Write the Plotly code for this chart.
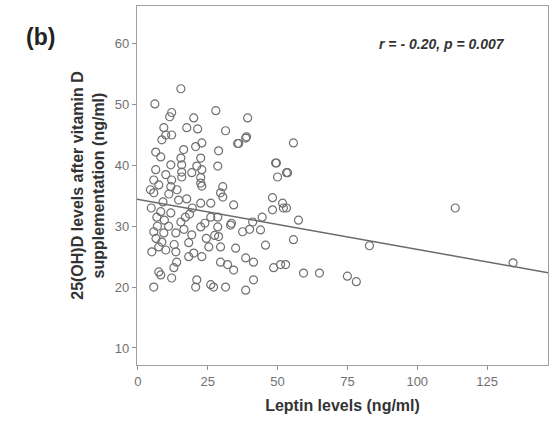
import plotly.graph_objects as go
import numpy as np

# Leptin (ng/ml) values
leptin = [
    113.6, 134.3, 82.9, 75.0, 78.2, 65.0, 59.3, 55.7, 53.6, 53.2, 57.5, 55.7, 52.9,
    27.9, 39.3, 31.4, 38.6, 36.1, 28.9, 28.6, 49.6, 50.0, 53.2, 30.4,
    15.4, 6.1, 12.1, 11.4, 20.0, 21.4, 17.5, 9.3, 10.0, 12.1, 8.6, 22.9, 20.7, 6.4,
    16.4, 8.2, 15.4, 22.5, 15.7, 11.8, 21.1, 6.4, 22.9, 15.7, 10.0, 5.7, 22.5, 12.1,
    15.7, 19.3, 7.5, 22.9, 11.8,
    5.7, 11.1, 14.6, 8.2, 6.8, 11.8, 15.4, 22.5, 26.1, 5.7, 9.3, 13.6, 19.3, 8.6,
    7.5, 18.2, 5.0, 10.0, 13.6, 20.0, 22.9, 25.4, 13.9, 12.9, 18.2, 7.5, 8.2, 12.1,
    21.1, 5.7, 20.7, 26.1, 26.1, 22.5,
    30.4, 34.3, 48.2, 51.8, 48.2, 52.1, 28.6, 33.2, 41.1, 43.9, 37.5, 28.6, 28.9,
    45.7, 35.0, 29.6, 38.6, 41.4, 29.6, 32.1, 34.3, 48.6, 51.1, 41.4, 38.6, 27.1,
    31.4, 29.6, 22.5, 49.3, 38.9, 35.7,
    4.8, 7.0, 9.5, 13.0, 17.0, 19.5, 24.0, 14.0, 17.5, 9.0, 6.5, 16.5, 24.5, 4.5,
    11.0, 18.5, 27.5, 33.5, 40.0, 44.5,
]
# 25(OH)D after vitamin D supplementation (ng/ml)
vitd = [
    33.0, 24.0, 26.8, 21.8, 20.9, 22.3, 22.3, 43.7, 38.8, 33.0, 31.0, 27.8, 23.7,
    49.0, 47.8, 45.7, 44.5, 43.6, 42.4, 39.9, 40.4, 38.1, 38.8, 36.5,
    52.6, 50.1, 48.7, 48.0, 47.8, 46.0, 46.2, 46.2, 45.0, 45.0, 44.2, 43.7, 43.1, 42.2,
    42.6, 41.4, 41.2, 41.2, 40.1, 40.1, 39.9, 39.3, 39.3, 38.9, 38.5, 37.6, 38.0, 37.6,
    38.1, 38.8, 36.8, 36.6, 36.5,
    35.5, 35.3, 34.3, 32.4, 31.5, 32.2, 30.7, 29.9, 31.5, 29.1, 28.9, 28.9, 28.6, 27.4,
    26.6, 27.3, 25.8, 26.1, 25.8, 25.6, 25.0, 26.6, 24.1, 23.2, 25.0, 22.5, 22.0, 21.5,
    21.2, 20.0, 20.0, 20.4, 33.8, 33.8,
    34.8, 33.5, 34.7, 33.8, 32.7, 33.0, 31.5, 30.2, 30.7, 29.4, 29.1, 29.9, 28.3,
    26.9, 26.4, 26.6, 24.8, 24.1, 24.1, 23.7, 22.8, 23.2, 23.7, 21.2, 19.5, 20.0,
    20.0, 35.5, 37.1, 40.4, 44.7, 43.6,
    33.0, 30.0, 31.0, 27.0, 31.5, 33.0, 30.5, 36.0, 34.5, 34.0, 28.0, 29.5, 28.0, 36.0,
    30.0, 32.0, 28.5, 30.5, 29.5, 31.5,
]

# Linear fit reported in the figure
fit_intercept = 34.4
fit_slope = -0.082
x_ticks = [0, 25, 50, 75, 100, 125]
y_ticks = [10, 20, 30, 40, 50, 60]
x_range = [-0.3, 146.8]
y_range = [7.2, 66.2]

fit_x = np.array(x_range)
fit_y = fit_intercept + fit_slope * fit_x

FONT = "Liberation Sans, Arial, sans-serif"

fig = go.Figure()
fig.add_trace(go.Scatter(
    x=leptin, y=vitd, mode="markers",
    marker=dict(symbol="circle-open", size=8, color="#707070", line=dict(width=1.2, color="#707070")),
    showlegend=False, hoverinfo="skip",
))
fig.add_trace(go.Scatter(
    x=fit_x, y=fit_y, mode="lines",
    line=dict(color="#6a6a6a", width=1.5),
    showlegend=False, hoverinfo="skip",
))

axis_common = dict(
    showgrid=False, zeroline=False, showline=True, linecolor="#a0a0a0", linewidth=1.2,
    mirror=True, ticks="outside", ticklen=4, tickcolor="#909090", tickwidth=1,
    tickfont=dict(family=FONT, size=13, color="#707070"),
)

fig.update_layout(
    width=549, height=421,
    margin=dict(l=137, r=1, t=6, b=56),
    paper_bgcolor="white", plot_bgcolor="white",
    xaxis=dict(range=x_range, tickvals=x_ticks, **axis_common,
               title=dict(text="<b>Leptin levels (ng/ml)</b>", standoff=12,
                          font=dict(family=FONT, size=16, color="#333333"))),
    yaxis=dict(range=y_range, tickvals=y_ticks, **axis_common,
               title=dict(text="<b>25(OH)D levels after vitamin D<br>supplementation (ng/ml)</b>", standoff=6,
                          font=dict(family=FONT, size=16, color="#333333"))),
    annotations=[
        dict(text="<b>(b)</b>", xref="paper", yref="paper", x=-0.275, y=0.914,
             xanchor="left", yanchor="middle", showarrow=False,
             font=dict(family=FONT, size=23, color="#222222")),
        dict(text="<b><i>r = - 0.20, p = 0.007</i></b>", xref="paper", yref="paper", x=0.9, y=0.893,
             xanchor="right", yanchor="middle", showarrow=False,
             font=dict(family=FONT, size=14, color="#333333")),
    ],
)

fig.write_html("out.html")
